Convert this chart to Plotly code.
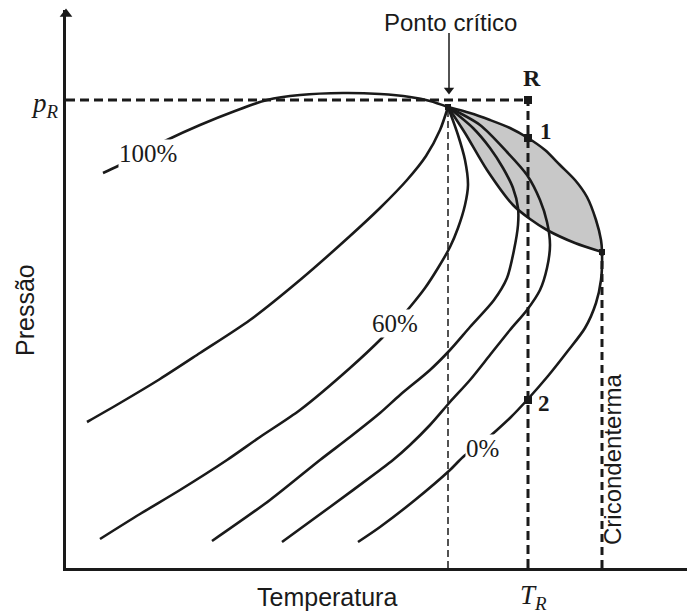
import plotly.graph_objects as go

# ---- data (Temperature, Pressure in arbitrary diagram units) ----
T_CRIT, P_CRIT = 382, 461          # ponto crítico
T_R, P_R = 462, 468                # reservoir temperature / pressure
P_POINT1, P_POINT2 = 430, 168      # points 1 and 2 on T_R
T_CC, P_CC = 536, 316              # cricondenterma point

bubble_T = [37, 52, 74, 101, 134, 169, 201, 234, 277, 314, 344, 364, 382]
bubble_P = [395, 402, 414, 428, 443, 457, 468, 473, 475, 474, 471, 467, 461]

q80_T = [382, 374, 360, 341, 314, 284, 234, 184, 134, 94, 54, 21]
q80_P = [461, 438, 412, 388, 360, 332, 288, 248, 215, 189, 165, 146]

q60_T = [382, 392, 399, 402, 399, 392, 384, 372, 359, 344, 330, 316, 284, 234, 194, 161, 114, 74, 34]
q60_P = [461, 433, 408, 383, 363, 340, 321, 300, 280, 261, 245, 230, 200, 158, 131, 108, 78, 54, 29]

q40_T = [382, 407, 424, 437, 447, 452, 452, 448, 441, 428, 404, 384, 364, 334, 314, 284, 254, 204, 146]
q40_P = [461, 440, 420, 400, 380, 360, 343, 318, 290, 268, 241, 218, 198, 173, 155, 131, 108, 68, 27]

q20_T = [382, 414, 441, 461, 474, 481, 484, 481, 474, 461, 444, 424, 404, 384, 364, 344, 327, 314, 264, 216]
q20_P = [461, 443, 416, 393, 368, 346, 323, 300, 278, 258, 238, 213, 188, 166, 143, 123, 108, 98, 61, 26]

dew_T = [382, 404, 424, 444, 462, 479, 494, 509, 521, 530, 535, 536, 535, 530, 519, 501, 482, 462, 444, 431, 417, 397, 384, 349, 314, 292]
dew_P = [461, 455, 448, 440, 430, 418, 403, 388, 371, 348, 328, 316, 288, 265, 240, 216, 192, 169, 150, 138, 126, 111, 98, 68, 41, 26]

retro_T = [382, 399, 421, 447, 464, 481, 509, 536]
retro_P = [461, 435, 398, 363, 349, 338, 325, 316]

LABELS = {"100%": (82, 415), "60%": (329, 245), "0%": (416, 120)}

X_MAX, Y_MAX = 621, 558

# ---- figure ----
BLACK = "#1a1a1a"
SANS = "Liberation Sans, Arial, sans-serif"
SERIF = "Liberation Serif, Times New Roman, serif"

fig = go.Figure()

# grey retrograde region: dew curve down to cricondenterm, back along lower boundary
i_cc = dew_T.index(max(dew_T))
fill_T = dew_T[: i_cc + 1] + retro_T[::-1]
fill_P = dew_P[: i_cc + 1] + retro_P[::-1]
fig.add_trace(go.Scatter(x=fill_T, y=fill_P, mode="lines", fill="toself",
                         fillcolor="#c8c8c8", line=dict(width=0, color="#c8c8c8"),
                         hoverinfo="skip"))

for xs, ys in [(bubble_T, bubble_P), (q80_T, q80_P), (q60_T, q60_P),
               (q40_T, q40_P), (q20_T, q20_P), (dew_T, dew_P), (retro_T, retro_P)]:
    fig.add_trace(go.Scatter(x=xs, y=ys, mode="lines",
                             line=dict(color=BLACK, width=2.6, shape="spline", smoothing=0.8),
                             hoverinfo="skip"))

# dashed guide lines
fig.add_trace(go.Scatter(x=[0, T_R], y=[P_R, P_R], mode="lines",
                         line=dict(color=BLACK, width=3, dash="9px,5px")))
fig.add_trace(go.Scatter(x=[T_R, T_R], y=[0, P_R], mode="lines",
                         line=dict(color=BLACK, width=3, dash="9px,5px")))
fig.add_trace(go.Scatter(x=[T_CRIT, T_CRIT], y=[0, P_CRIT], mode="lines",
                         line=dict(color=BLACK, width=1.5, dash="7px,4px")))
fig.add_trace(go.Scatter(x=[T_CC, T_CC], y=[0, P_CC], mode="lines",
                         line=dict(color=BLACK, width=3, dash="8px,5px")))

# points
fig.add_trace(go.Scatter(x=[T_R, T_R, T_R], y=[P_R, P_POINT1, P_POINT2], mode="markers",
                         marker=dict(symbol="square", size=8, color=BLACK)))
fig.add_trace(go.Scatter(x=[T_CRIT, T_CC], y=[P_CRIT, P_CC], mode="markers",
                         marker=dict(symbol="square", size=6, color=BLACK)))

# arrow pointing at the critical point
fig.add_trace(go.Scatter(x=[T_CRIT + 1, T_CRIT + 1], y=[535, 480], mode="lines",
                         line=dict(color=BLACK, width=1.5)))
fig.add_trace(go.Scatter(x=[T_CRIT + 1], y=[478], mode="markers",
                         marker=dict(symbol="triangle-down", size=9, color=BLACK)))
# arrowhead on the pressure axis
fig.add_trace(go.Scatter(x=[0], y=[Y_MAX - 4], mode="markers", cliponaxis=False,
                         marker=dict(symbol="triangle-up", size=11, color=BLACK)))


def outside(tx, py, text, **kw):
    """annotation placed in data units but referenced to paper (may lie outside axes)"""
    return dict(x=tx / X_MAX, y=py / Y_MAX, xref="paper", yref="paper",
                xanchor="center", yanchor="middle", text=text, showarrow=False, **kw)


ann = []
for txt, (tx, py) in LABELS.items():
    ann.append(dict(x=tx, y=py, text=txt, showarrow=False, bgcolor="white", borderpad=0,
                    font=dict(family=SERIF, size=25, color=BLACK)))

ann += [
    dict(x=T_CRIT + 2, y=546, text="Ponto crítico", showarrow=False,
         font=dict(family=SANS, size=24, color=BLACK)),
    outside(261, -29, "Temperatura", font=dict(family=SANS, size=25, color=BLACK)),
    outside(-41, 258, "Pressão", textangle=-90, font=dict(family=SANS, size=25, color=BLACK)),
    dict(x=T_CC + 10, y=108, text="Cricondenterma", showarrow=False, textangle=-90,
         font=dict(family=SANS, size=24, color=BLACK)),
    outside(-21, P_R - 5, "<i>p</i><sub><i>R</i></sub>",
            font=dict(family=SERIF, size=27, color=BLACK)),
    outside(T_R + 5, -29, "<i>T</i><sub><i>R</i></sub>",
            font=dict(family=SERIF, size=27, color=BLACK)),
    dict(x=T_R + 4, y=P_R + 22, text="<b>R</b>", showarrow=False,
         font=dict(family=SERIF, size=24, color=BLACK)),
    dict(x=T_R + 18, y=P_POINT1 + 7, text="<b>1</b>", showarrow=False,
         font=dict(family=SERIF, size=23, color=BLACK)),
    dict(x=T_R + 16, y=P_POINT2 - 3, text="<b>2</b>", showarrow=False,
         font=dict(family=SERIF, size=23, color=BLACK)),
]

fig.update_layout(
    width=687, height=616, autosize=False,
    margin=dict(l=66, r=0, t=10, b=48),
    paper_bgcolor="white", plot_bgcolor="white",
    showlegend=False, annotations=ann,
    xaxis=dict(range=[0, X_MAX], showgrid=False, zeroline=False, showticklabels=False,
               ticks="", showline=True, linecolor=BLACK, linewidth=3, fixedrange=True),
    yaxis=dict(range=[0, Y_MAX], showgrid=False, zeroline=False, showticklabels=False,
               ticks="", showline=True, linecolor=BLACK, linewidth=3, fixedrange=True),
)

fig.write_html("out.html", config={"displayModeBar": False},
               post_script="document.body.style.margin='0';document.body.style.overflow='hidden';")
